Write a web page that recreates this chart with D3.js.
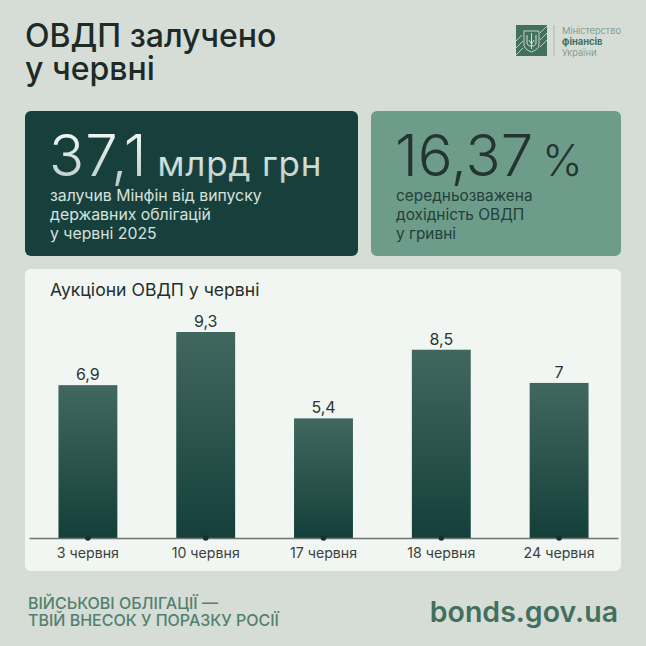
<!DOCTYPE html>
<html lang="uk">
<head>
<meta charset="UTF-8">
<title>ОВДП залучено у червні</title>
<script src="https://d3js.org/d3.v7.min.js"></script>
<style>
    html, body { margin: 0; padding: 0; background: #d5ddd6; }
    svg { display: block; font-family: Inter, "Noto Sans", sans-serif; }
</style>
</head>
<body>
<svg id="chart" width="646" height="646"></svg>
<script>
const dates = ["3 червня", "10 червня", "17 червня", "18 червня", "24 червня"];
const values = [6.9, 9.3, 5.4, 8.5, 7];
const valueLabels = ["6,9", "9,3", "5,4", "8,5", "7"];

const titleLines = ["ОВДП залучено", "у червні"];
const leftCaption = ["залучив Мінфін від випуску", "державних облігацій", "у червні 2025"];
const rightCaption = ["середньозважена", "дохідність ОВДП", "у гривні"];
const footerLines = ["ВІЙСЬКОВІ ОБЛІГАЦІЇ —", "ТВІЙ ВНЕСОК У ПОРАЗКУ РОСІЇ"];
const logoLines = ["Міністерство", "фінансів", "України"];

const svg = d3.select("#chart");
const defs = svg.append("defs");

const addGradient = (id, stops) => {
    const g = defs.append("linearGradient").attr("id", id)
        .attr("x1", 0).attr("y1", 0).attr("x2", 0).attr("y2", 1);
    stops.forEach(s => g.append("stop").attr("offset", s[0]).attr("stop-color", s[1]));
};
addGradient("barFill", [[0, "#41685f"], [1, "#143f3a"]]);
addGradient("bigText", [[0, "#ffffff"], [1, "#b4c8c2"]]);

svg.append("rect").attr("width", 646).attr("height", 646).attr("fill", "#d5ddd6");

const addLines = (lines, x, y, step, size, fill, weight = 400) => {
    lines.forEach((t, i) => {
        svg.append("text").attr("x", x).attr("y", y + i * step)
            .attr("font-size", size).attr("font-weight", weight)
            .attr("fill", fill).text(t);
    });
};

// heading
addLines(titleLines, 25, 47, 33, 32, "#1d2a28", 500);

// logo
const logo = svg.append("g").attr("transform", "translate(516,25)");
logo.append("rect").attr("width", 31).attr("height", 31).attr("fill", "#41705f");
[[0, 16, 6, 10], [0, 23, 7, 16], [0, 30, 7, 23], [24, 8, 31, 1], [24, 15, 31, 8], [24, 22, 31, 15]].forEach(d => {
    logo.append("line").attr("x1", d[0]).attr("y1", d[1]).attr("x2", d[2]).attr("y2", d[3])
        .attr("stroke", "#c9d6cf").attr("stroke-width", 0.9);
});
logo.append("path")
    .attr("d", "M8 6H23V20Q23 24 15.5 27Q8 24 8 20Z")
    .attr("fill", "#41705f").attr("stroke", "#d5ddd6").attr("stroke-width", 0.9);
logo.append("path")
    .attr("d", "M15.5 8V24M11 10V18Q11 21 15.5 21Q20 21 20 18V10M13 15L15.5 19L18 15")
    .attr("fill", "none").attr("stroke", "#d5ddd6").attr("stroke-width", 1);
svg.append("line").attr("x1", 554).attr("x2", 554).attr("y1", 25).attr("y2", 56)
    .attr("stroke", "#9fb0a8").attr("stroke-width", 0.8);
logoLines.forEach((t, i) => {
    svg.append("text").attr("x", 562).attr("y", 34 + i * 11)
        .attr("font-size", 9.4).attr("font-weight", i === 1 ? 700 : 300)
        .attr("fill", i === 1 ? "#41705f" : "#6f8a80").text(t);
});

// dark card
svg.append("rect").attr("x", 25).attr("y", 111).attr("width", 333).attr("height", 145)
    .attr("rx", 6).attr("fill", "#173f3c");
const leftBig = svg.append("text").attr("x", 49).attr("y", 176).attr("fill", "url(#bigText)");
leftBig.append("tspan").attr("font-size", 58).attr("font-weight", 300).attr("letter-spacing", 1).text("37,1");
leftBig.append("tspan").attr("dx", 10).attr("font-size", 35).attr("font-weight", 400).attr("letter-spacing", 0.8).text("млрд грн");
addLines(leftCaption, 50, 201, 18.8, 15.8, "#d8e2dd");

// green card
svg.append("rect").attr("x", 371).attr("y", 111).attr("width", 250).attr("height", 145)
    .attr("rx", 6).attr("fill", "#6d9c8a");
const rightBig = svg.append("text").attr("x", 395).attr("y", 176).attr("fill", "#23352f");
rightBig.append("tspan").attr("font-size", 58).attr("font-weight", 300).text("16,37");
rightBig.append("tspan").attr("dx", 9).attr("font-size", 43).attr("font-weight", 300).text("%");
addLines(rightCaption, 396, 201, 18.8, 15.4, "#23403a");

// chart card
svg.append("rect").attr("x", 25).attr("y", 269).attr("width", 596).attr("height", 302)
    .attr("rx", 6).attr("fill", "#f2f6f3");
svg.append("text").attr("x", 50).attr("y", 296).attr("font-size", 17.6)
    .attr("font-weight", 400).attr("fill", "#232f2c").text("Аукціони ОВДП у червні");

const x = d3.scaleBand().domain(dates).range([29, 618]).paddingInner(0.5).paddingOuter(0.25);
const y = d3.scaleLinear().domain([0, 9.3]).range([538, 332]);

svg.append("g").selectAll("rect").data(values).join("rect")
    .attr("x", (d, i) => x(dates[i]))
    .attr("y", d => y(d))
    .attr("width", x.bandwidth())
    .attr("height", d => y(0) - y(d))
    .attr("fill", "url(#barFill)");

svg.append("g").selectAll("text").data(values).join("text")
    .attr("x", (d, i) => x(dates[i]) + x.bandwidth() / 2)
    .attr("y", d => y(d) - 5)
    .attr("text-anchor", "middle")
    .attr("font-size", 16)
    .attr("fill", "#2a3532")
    .text((d, i) => valueLabels[i]);

const axis = svg.append("g").attr("transform", `translate(0,${y(0)})`)
    .call(d3.axisBottom(x).tickSize(0).tickPadding(10));
axis.select(".domain").attr("stroke", "#6d7472").attr("stroke-width", 1.4);
axis.selectAll("text")
    .attr("font-family", "Inter, 'Noto Sans', sans-serif")
    .attr("font-size", 14.2).attr("fill", "#39423f");
axis.selectAll(".tick").append("circle").attr("r", 2.8).attr("cy", 0).attr("fill", "#1d2f2b");

// footer
addLines(footerLines, 28, 609, 16.8, 16, "#53806f", 500);
svg.append("text").attr("x", 618).attr("y", 622).attr("text-anchor", "end")
    .attr("font-size", 28.5).attr("font-weight", 600).attr("fill", "#41705f").text("bonds.gov.ua");
</script>
</body>
</html>
